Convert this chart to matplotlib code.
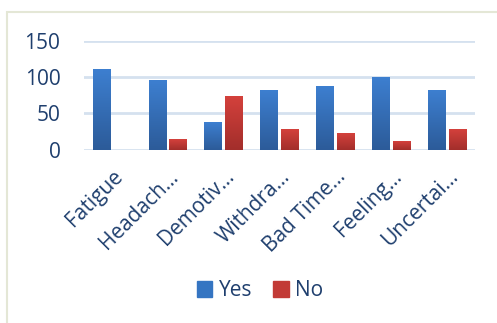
import numpy as np
import matplotlib
matplotlib.use('Agg')
import matplotlib.pyplot as plt
from matplotlib.patches import Rectangle

# 数据
categories = ["Fatigue", "Headach…", "Demotiv…", "Withdra…", "Bad Time…", "Feeling…", "Uncertai…"]
yes_vals = [111, 96, 38, 82, 88, 100, 82]
no_vals = [0, 15, 74, 28, 23, 12, 28]
yticks = [0, 50, 100, 150]

TEXT_COLOR = '#1F3F6E'
GRID_COLOR = '#D5E1EF'
plt.rcParams['font.family'] = ['Open Sans', 'DejaVu Sans']


def gradient_bars(ax, bars, top_color, bottom_color):
    # 每根柱子用渐变填充
    grad = np.linspace(0, 1, 256).reshape(-1, 1)
    cmap = matplotlib.colors.LinearSegmentedColormap.from_list('g', [bottom_color, top_color])
    for b in bars:
        x, y = b.get_x(), b.get_y()
        w, h = b.get_width(), b.get_height()
        if h <= 0:
            continue
        im = ax.imshow(grad, extent=[x, x + w, y, y + h], origin='lower',
                       aspect='auto', cmap=cmap, zorder=3)
        im.set_clip_path(b)
        b.set_facecolor('none')


fig = plt.figure(figsize=(4.97, 3.23), dpi=100)
ax = fig.add_axes([0.169, 0.537, 0.787, 0.336])

x = np.arange(len(categories))
w = 0.32
gap = 0.05
b1 = ax.bar(x - (w + gap) / 2, yes_vals, w, color='#3A7BC8', zorder=3, linewidth=0)
b2 = ax.bar(x + (w + gap) / 2, no_vals, w, color='#C83B37', zorder=3, linewidth=0)
gradient_bars(ax, b1, '#3D7FD0', '#2C5B99')
gradient_bars(ax, b2, '#D4413C', '#A22E2B')

ax.set_xlim(-0.5, len(categories) - 0.5)
ax.set_ylim(0, 150)
ax.set_yticks(yticks)
ax.set_yticklabels([str(t) for t in yticks], fontsize=15, color=TEXT_COLOR)
ax.grid(True, axis='y', color=GRID_COLOR, linewidth=2, zorder=0)
ax.set_axisbelow(True)
ax.set_xticks(x)
ax.set_xticklabels(categories, rotation=45, ha='right', rotation_mode='anchor',
                   fontsize=15, color=TEXT_COLOR)
ax.tick_params(axis='y', length=0, pad=17)
ax.tick_params(axis='x', length=0, pad=12)
for s in ax.spines.values():
    s.set_visible(False)

# 图例
handles = [Rectangle((0, 0), 1, 1, color='#3575C2'), Rectangle((0, 0), 1, 1, color='#C23A36')]
fig.legend(handles, ['Yes', 'No'], loc='center', bbox_to_anchor=(0.523, 0.10), ncol=2,
           frameon=False, fontsize=15, labelcolor=TEXT_COLOR, handlelength=0.75,
           handleheight=0.75, handletextpad=0.3, columnspacing=1.0)

# 外框
fig.patches.append(Rectangle((0.014, -0.01), 1.0, 0.973, transform=fig.transFigure,
                             fill=False, edgecolor='#E4E7D6', linewidth=1.5))

plt.savefig('out.png', dpi=100)
plt.close()
